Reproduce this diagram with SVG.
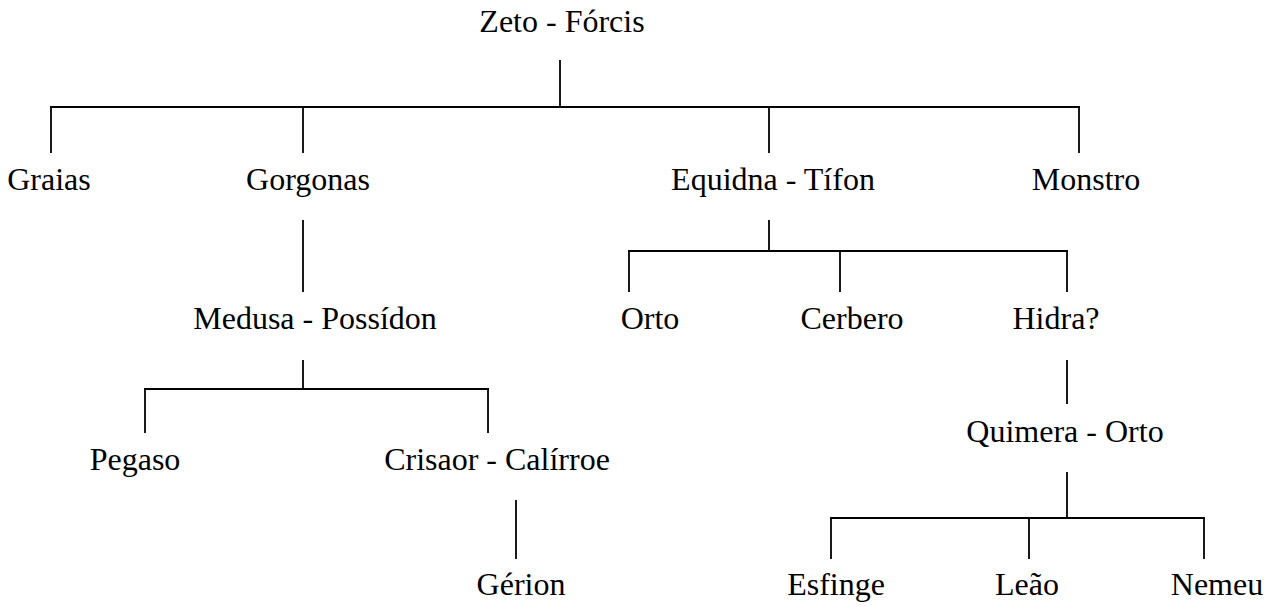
<svg xmlns="http://www.w3.org/2000/svg" width="1276" height="607" viewBox="0 0 1276 607">
<style>
.n text{font-size:32px;text-anchor:middle;fill:#000}
</style>
<rect width="1276" height="607" fill="#fff"/>
<g id="connectors" stroke="#000" stroke-width="1.8" stroke-linecap="square">
<line x1="560" y1="61" x2="560" y2="107"/>
<line x1="51" y1="107" x2="1079" y2="107"/>
<line x1="51" y1="107" x2="51" y2="152"/>
<line x1="303" y1="107" x2="303" y2="152"/>
<line x1="769" y1="107" x2="769" y2="152"/>
<line x1="1079" y1="107" x2="1079" y2="152"/>
<line x1="303" y1="221" x2="303" y2="291"/>
<line x1="769" y1="221" x2="769" y2="251"/>
<line x1="629" y1="251" x2="1067" y2="251"/>
<line x1="629" y1="251" x2="629" y2="291"/>
<line x1="840" y1="251" x2="840" y2="291"/>
<line x1="1067" y1="251" x2="1067" y2="291"/>
<line x1="303" y1="361" x2="303" y2="389"/>
<line x1="145" y1="389" x2="488" y2="389"/>
<line x1="145" y1="389" x2="145" y2="432"/>
<line x1="488" y1="389" x2="488" y2="432"/>
<line x1="1067" y1="361" x2="1067" y2="403"/>
<line x1="516" y1="501" x2="516" y2="558"/>
<line x1="1067" y1="473" x2="1067" y2="518"/>
<line x1="831" y1="518" x2="1204" y2="518"/>
<line x1="831" y1="518" x2="831" y2="558"/>
<line x1="1029" y1="518" x2="1029" y2="558"/>
<line x1="1204" y1="518" x2="1204" y2="558"/>
</g>
<g class="n" font-family="Times, serif">
<g id="zeto"><text x="562" y="32">Zeto - F&#243;rcis</text></g>
<g id="graias"><text x="49" y="190">Graias</text></g>
<g id="gorgonas"><text x="308" y="190">Gorgonas</text></g>
<g id="equidna"><text x="773" y="190">Equidna - T&#237;fon</text></g>
<g id="monstro"><text x="1086" y="190">Monstro</text></g>
<g id="medusa"><text x="315" y="329">Medusa - Poss&#237;don</text></g>
<g id="orto"><text x="650" y="329">Orto</text></g>
<g id="cerbero"><text x="852" y="329">Cerbero</text></g>
<g id="hidra"><text x="1056" y="329">Hidra?</text></g>
<g id="quimera"><text x="1065" y="442">Quimera - Orto</text></g>
<g id="pegaso"><text x="135" y="470">Pegaso</text></g>
<g id="crisaor"><text x="497" y="470">Crisaor - Cal&#237;rroe</text></g>
<g id="gerion"><text x="521" y="595">G&#233;rion</text></g>
<g id="esfinge"><text x="836" y="595">Esfinge</text></g>
<g id="leao"><text x="1027" y="595">Le&#227;o</text></g>
<g id="nemeu"><text x="1217" y="595">Nemeu</text></g>
</g>
</svg>
